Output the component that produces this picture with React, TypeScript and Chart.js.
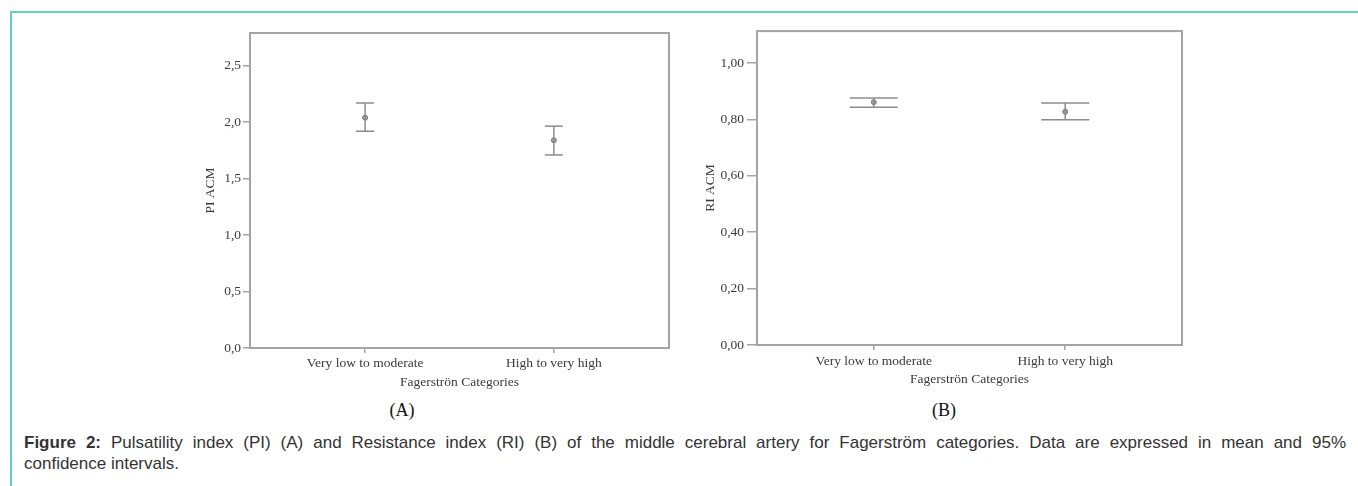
import React, { useEffect, useRef } from "react";
import { Chart, registerables } from "chart.js";

Chart.register(...registerables);

// ---------- data ----------
const categories = ["Very low to moderate", "High to very high"];
const piMean = [2.04, 1.84];
const piLower = [1.92, 1.71];
const piUpper = [2.17, 1.965];
const riMean = [0.861, 0.827];
const riLower = [0.843, 0.799];
const riUpper = [0.876, 0.858];
const piTicks = [0, 0.5, 1.0, 1.5, 2.0, 2.5];
const riTicks = [0, 0.2, 0.4, 0.6, 0.8, 1.0];
const xAxisTitle = "Fagerströn Categories";
const piTitle = "PI ACM";
const riTitle = "RI ACM";
const captionBold = "Figure 2:";
const captionLine1 =
  " Pulsatility index (PI) (A) and Resistance index (RI) (B) of the middle cerebral artery for Fagerström categories. Data are expressed in mean and 95%";
const captionLine2 = "confidence intervals.";

// ---------- styles ----------
const SERIF = "'Liberation Serif', 'Times New Roman', serif";
const SANS = "'Liberation Sans', Arial, sans-serif";
const TEXT = "#3a3a3a";
const AXIS = "#a4a4a4";
const BAR = "#8c8c8c";

const framePlugin = {
  id: "frame",
  beforeDatasetsDraw(chart: any) {
    const { ctx, chartArea } = chart;
    ctx.save();
    ctx.strokeStyle = AXIS;
    ctx.lineWidth = 2;
    ctx.strokeRect(
      chartArea.left,
      chartArea.top,
      chartArea.right - chartArea.left,
      chartArea.bottom - chartArea.top
    );
    ctx.restore();
  },
};

type PanelProps = {
  mean: number[];
  lower: number[];
  upper: number[];
  ticks: number[];
  decimals: number;
  yMax: number;
  yTitle: string;
  cap: number;
  yWidth: number;
  yTickLength: number;
  yTickPadding: number;
  yTitlePad: number;
  xTickPadding: number;
  padTop: number;
  left: number;
  top: number;
  width: number;
  height: number;
};

function ErrorPanel(p: PanelProps) {
  const ref = useRef<HTMLCanvasElement | null>(null);
  useEffect(() => {
    if (!ref.current) return;
    const tickFont = { family: SERIF, size: 13.5 };
    const chart = new Chart(ref.current, {
      type: "line",
      data: {
        datasets: [
          ...categories.map((c, i) => ({
            type: "line" as const,
            label: c,
            data: [
              { x: i, y: p.lower[i] },
              { x: i, y: p.upper[i] },
            ],
            borderColor: BAR,
            borderWidth: 1.5,
            pointStyle: "line" as const,
            pointRadius: p.cap,
            pointHoverRadius: p.cap,
            pointBorderColor: BAR,
            pointBorderWidth: 1.5,
            fill: false,
          })),
          {
            type: "scatter" as const,
            label: "Mean",
            data: p.mean.map((m, i) => ({ x: i, y: m })),
            pointStyle: "circle" as const,
            pointRadius: 2.5,
            backgroundColor: "#a0a0a0",
            borderColor: "#777777",
            borderWidth: 1,
          },
        ],
      } as any,
      options: {
        animation: false,
        responsive: false,
        devicePixelRatio: 1,
        layout: { autoPadding: false, padding: { top: p.padTop, right: 5, bottom: 0, left: 0 } },
        plugins: { legend: { display: false }, tooltip: { enabled: false } },
        scales: {
          x: {
            type: "linear",
            min: -0.61,
            max: 1.61,
            afterBuildTicks: (s: any) => {
              s.ticks = categories.map((_, i) => ({ value: i }));
            },
            afterFit: (s: any) => {
              s.height = 44;
            },
            ticks: {
              callback: (v: any) => categories[v] ?? "",
              font: tickFont,
              color: TEXT,
              padding: p.xTickPadding,
              maxRotation: 0,
              autoSkip: false,
            },
            grid: {
              display: true,
              drawOnChartArea: false,
              drawTicks: true,
              tickLength: 5,
              color: AXIS,
              lineWidth: 1.5,
            },
            border: { display: false },
            title: {
              display: true,
              text: xAxisTitle,
              font: tickFont,
              color: TEXT,
              padding: { top: 0, bottom: 1 },
            },
          },
          y: {
            type: "linear",
            min: 0,
            max: p.yMax,
            afterBuildTicks: (s: any) => {
              s.ticks = p.ticks.map((v) => ({ value: v }));
            },
            afterFit: (s: any) => {
              s.width = p.yWidth;
            },
            ticks: {
              callback: (v: any) => Number(v).toFixed(p.decimals).replace(".", ","),
              font: tickFont,
              color: TEXT,
              padding: p.yTickPadding,
              autoSkip: false,
            },
            grid: {
              display: true,
              drawOnChartArea: false,
              drawTicks: true,
              tickLength: p.yTickLength,
              color: AXIS,
              lineWidth: 1.5,
            },
            border: { display: false },
            title: {
              display: true,
              text: p.yTitle,
              font: tickFont,
              color: TEXT,
              padding: { top: p.yTitlePad, bottom: 0 },
            },
          },
        },
      } as any,
      plugins: [framePlugin],
    });
    return () => chart.destroy();
  }, []);
  return (
    <canvas
      ref={ref}
      width={p.width}
      height={p.height}
      style={{
        position: "absolute",
        left: p.left,
        top: p.top,
        width: p.width,
        height: p.height,
      }}
    />
  );
}

export default function App() {
  return (
    <div
      style={{
        position: "absolute",
        left: 0,
        top: 0,
        width: 1358,
        height: 486,
        overflow: "hidden",
        background: "#ffffff",
      }}
    >
      <div
        style={{
          position: "absolute",
          left: 10,
          top: 11,
          width: 1348,
          height: 475,
          borderTop: "2px solid #63d1bd",
          borderLeft: "2px solid #63d1bd",
          boxSizing: "border-box",
        }}
      />
      <ErrorPanel
        mean={piMean}
        lower={piLower}
        upper={piUpper}
        ticks={piTicks}
        decimals={1}
        yMax={2.79}
        yTitle={piTitle}
        cap={9}
        yWidth={50}
        yTickLength={7}
        yTickPadding={2}
        yTitlePad={2}
        xTickPadding={2}
        padTop={13}
        left={200}
        top={20}
        width={474}
        height={372}
      />
      <ErrorPanel
        mean={riMean}
        lower={riLower}
        upper={riUpper}
        ticks={riTicks}
        decimals={2}
        yMax={1.113}
        yTitle={riTitle}
        cap={24}
        yWidth={57}
        yTickLength={10}
        yTickPadding={3}
        yTitlePad={2}
        xTickPadding={3}
        padTop={10}
        left={700}
        top={20}
        width={487}
        height={369}
      />
      <div
        style={{
          position: "absolute",
          left: 372,
          top: 398,
          width: 60,
          textAlign: "center",
          fontFamily: SERIF,
          fontSize: 18,
          lineHeight: "24px",
          color: "#111",
        }}
      >
        (A)
      </div>
      <div
        style={{
          position: "absolute",
          left: 914,
          top: 398,
          width: 60,
          textAlign: "center",
          fontFamily: SERIF,
          fontSize: 18,
          lineHeight: "24px",
          color: "#111",
        }}
      >
        (B)
      </div>
      <div
        style={{
          position: "absolute",
          left: 24,
          top: 432,
          width: 1322,
          fontFamily: SANS,
          fontSize: 17,
          lineHeight: "21px",
          color: "#333",
        }}
      >
        <div style={{ textAlign: "justify", textAlignLast: "justify", whiteSpace: "normal" }}>
          <b>{captionBold}</b>
          {captionLine1}
        </div>
        <div>{captionLine2}</div>
      </div>
    </div>
  );
}
